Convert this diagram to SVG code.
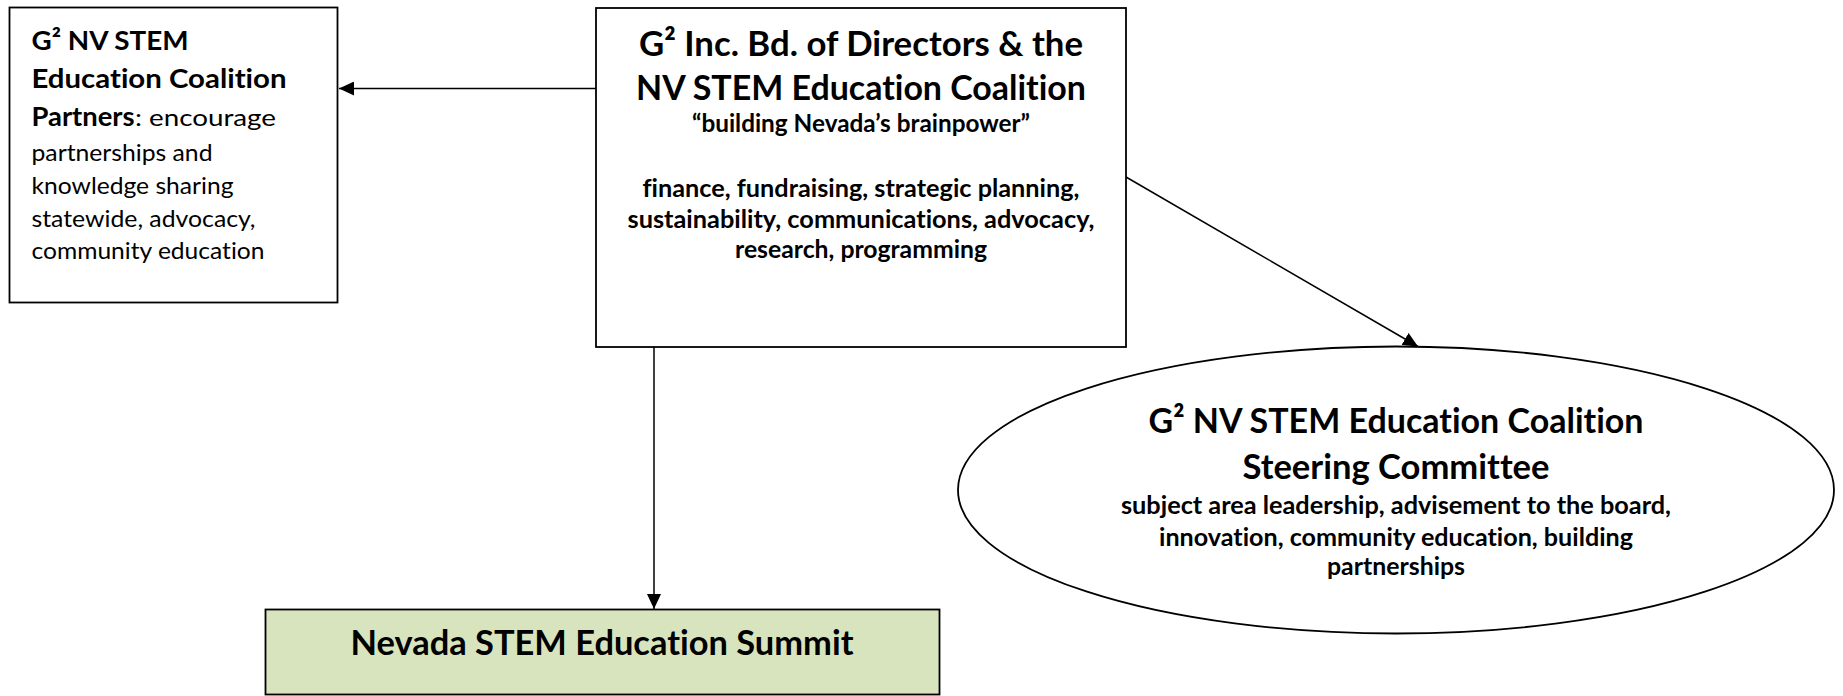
<svg xmlns="http://www.w3.org/2000/svg" width="1843" height="696" viewBox="0 0 1843 696">
  <style>
    .box { fill: #ffffff; stroke: #000000; stroke-width: 1.8; }
    .summit { fill: #d7e4bd; stroke: #000000; stroke-width: 1.8; }
    .link { fill: none; stroke: #000000; stroke-width: 1.5; }
    text { font-family: "Lato", "Liberation Sans", sans-serif; fill: #000000; font-variant-ligatures: none; }
    .title { font-size: 35px; font-weight: bold; text-anchor: middle; }
    .sub { font-size: 24px; font-weight: bold; text-anchor: middle; }
    .lhead { font-size: 27px; font-weight: bold; }
    .lbody { font-size: 24px; font-weight: normal; }
  </style>
  <defs>
    <marker id="arrowLg" viewBox="0 0 10 10" refX="10" refY="5" markerWidth="15" markerHeight="14" markerUnits="userSpaceOnUse" orient="auto" preserveAspectRatio="none">
      <path d="M0,0 L10,5 L0,10 Z" fill="#000000"/>
    </marker>
  </defs>

  <!-- connectors -->
  <g id="connectors">
    <line class="link" x1="596" y1="88.5" x2="339" y2="88.5" marker-end="url(#arrowLg)"/>
    <line class="link" x1="654" y1="347" x2="654" y2="609" marker-end="url(#arrowLg)"/>
    <line class="link" x1="1126" y1="177" x2="1418" y2="346.5" marker-end="url(#arrowLg)"/>
  </g>

  <!-- coalition partners -->
  <g id="partners">
    <rect class="box" x="9.5" y="7.5" width="328" height="295"/>
    <text class="lhead" x="31.5" y="49.5" textLength="157" lengthAdjust="spacingAndGlyphs">G² NV STEM</text>
    <text class="lhead" x="31.5" y="87.5" textLength="255" lengthAdjust="spacingAndGlyphs">Education Coalition</text>
    <text x="31.5" y="126"><tspan class="lhead" textLength="103" lengthAdjust="spacingAndGlyphs">Partners</tspan><tspan class="lbody" x="135" textLength="141" lengthAdjust="spacingAndGlyphs">:  encourage</tspan></text>
    <text class="lbody" x="31.5" y="161" textLength="181" lengthAdjust="spacingAndGlyphs">partnerships and</text>
    <text class="lbody" x="31.5" y="194" textLength="202" lengthAdjust="spacingAndGlyphs">knowledge sharing</text>
    <text class="lbody" x="31.5" y="226.5" textLength="224" lengthAdjust="spacingAndGlyphs">statewide, advocacy,</text>
    <text class="lbody" x="31.5" y="259" textLength="233" lengthAdjust="spacingAndGlyphs">community education</text>
  </g>

  <!-- board of directors -->
  <g id="board">
    <rect class="box" x="596" y="8" width="530" height="339"/>
    <text class="title" x="861" y="55.5" textLength="444" lengthAdjust="spacingAndGlyphs">G² Inc. Bd. of Directors &amp; the</text>
    <text class="title" x="861" y="99.5" textLength="450" lengthAdjust="spacingAndGlyphs">NV STEM Education Coalition</text>
    <text class="sub" x="861" y="131.5" textLength="338" lengthAdjust="spacingAndGlyphs">“building Nevada’s brainpower”</text>
    <text class="sub" x="861" y="197" textLength="437" lengthAdjust="spacingAndGlyphs">finance, fundraising, strategic planning,</text>
    <text class="sub" x="861" y="228" textLength="467" lengthAdjust="spacingAndGlyphs">sustainability, communications, advocacy,</text>
    <text class="sub" x="861" y="258" textLength="252" lengthAdjust="spacingAndGlyphs">research, programming</text>
  </g>

  <!-- steering committee -->
  <g id="steering">
    <ellipse class="box" cx="1396" cy="490" rx="438" ry="143.5"/>
    <text class="title" x="1396" y="433" textLength="495" lengthAdjust="spacingAndGlyphs">G² NV STEM Education Coalition</text>
    <text class="title" x="1396" y="479" textLength="307" lengthAdjust="spacingAndGlyphs">Steering Committee</text>
    <text class="sub" x="1396" y="513.5" textLength="550" lengthAdjust="spacingAndGlyphs">subject area leadership, advisement to the board,</text>
    <text class="sub" x="1396" y="546" textLength="474" lengthAdjust="spacingAndGlyphs">innovation, community education, building</text>
    <text class="sub" x="1396" y="575" textLength="138" lengthAdjust="spacingAndGlyphs">partnerships</text>
  </g>

  <!-- summit -->
  <g id="summit">
    <rect class="summit" x="265.5" y="609.5" width="674" height="85"/>
    <text class="title" x="602" y="655" textLength="503" lengthAdjust="spacingAndGlyphs">Nevada STEM Education Summit</text>
  </g>
</svg>
